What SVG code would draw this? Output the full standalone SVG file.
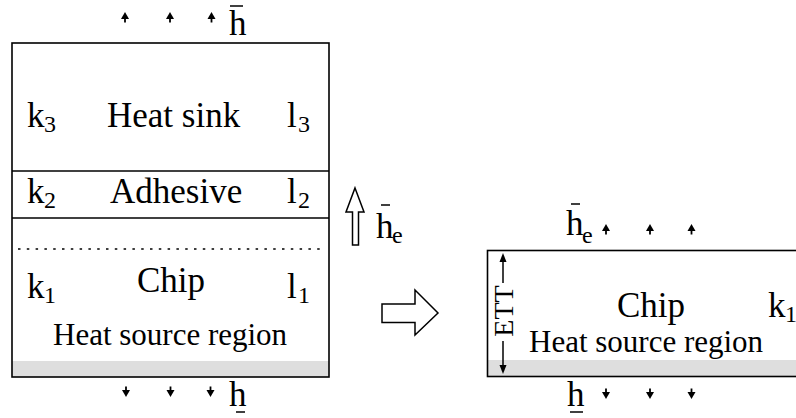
<svg xmlns="http://www.w3.org/2000/svg" width="796" height="418" viewBox="0 0 796 418">
<style>
  text { font-family: "Liberation Serif", "DejaVu Serif", "Times New Roman", serif; fill: #000; }
  .lbl { font-size: 35px; }
  .src { font-size: 31px; }
  .sub { font-size: 24px; }
  .box { fill: none; stroke: #000; stroke-width: 1.6; }
  .band { fill: #dedede; stroke: none; }
  .ln { stroke: #000; stroke-width: 1.5; fill: none; }
  .hollow { fill: #fff; stroke: #000; stroke-width: 1.5; stroke-linejoin: miter; }
</style>
<defs>
  <g id="up">
    <path d="M0,0 L-4,7 L4,7 Z" fill="#000"/>
    <line x1="0" y1="5" x2="0" y2="10.5" stroke="#000" stroke-width="1.8"/>
  </g>
  <g id="down">
    <path d="M0,0 L-4,-7 L4,-7 Z" fill="#000"/>
    <line x1="0" y1="-5" x2="0" y2="-10.5" stroke="#000" stroke-width="1.8"/>
  </g>
</defs>

<g id="left-stack">
  <rect class="band" x="12" y="361" width="317" height="16"/>
  <rect class="box" x="12" y="43" width="317" height="334"/>
  <line class="ln" x1="12" y1="171" x2="329" y2="171"/>
  <line class="ln" x1="12" y1="218" x2="329" y2="218"/>
  <line x1="18" y1="249" x2="326" y2="249" stroke="#000" stroke-width="1.3" stroke-dasharray="2.5,6.3"/>
</g>

<g id="heat-sink">
  <text class="lbl" x="27" y="127">k</text><text class="sub" x="44" y="132">3</text>
  <text class="lbl" x="107" y="127">Heat sink</text>
  <text class="lbl" x="287" y="127">l</text><text class="sub" x="298" y="132">3</text>
</g>

<g id="adhesive">
  <text class="lbl" x="27" y="203">k</text><text class="sub" x="44" y="208">2</text>
  <text class="lbl" x="110" y="203">Adhesive</text>
  <text class="lbl" x="287" y="203">l</text><text class="sub" x="298" y="208">2</text>
</g>

<g id="chip-left">
  <text class="lbl" x="27" y="298">k</text><text class="sub" x="44" y="303">1</text>
  <text class="lbl" x="137" y="292">Chip</text>
  <text class="lbl" x="287" y="298">l</text><text class="sub" x="298" y="303">1</text>
  <text class="src" x="53" y="345">Heat source region</text>
</g>

<g id="top-flux">
  <use href="#up" x="125" y="12"/>
  <use href="#up" x="170" y="12"/>
  <use href="#up" x="211.5" y="12"/>
  <text class="lbl" x="229" y="35">h</text>
  <line class="ln" x1="230" y1="6" x2="243" y2="6"/>
</g>

<g id="bottom-flux-left">
  <use href="#down" x="126" y="397"/>
  <use href="#down" x="170.5" y="397"/>
  <use href="#down" x="210.5" y="397"/>
  <text class="lbl" x="229" y="406">h</text>
  <line class="ln" x1="236" y1="412" x2="245" y2="412"/>
</g>

<g id="he-arrow">
  <polygon class="hollow" points="355,188 364,212 358.5,212 358.5,245 352.5,245 352.5,212 346,212"/>
  <text class="lbl" x="376" y="238">h</text>
  <text class="sub" x="392" y="243">e</text>
  <line class="ln" x1="381" y1="205" x2="390" y2="205"/>
</g>

<g id="transform-arrow">
  <polygon class="hollow" points="382,304 415,304 415,290 438,313 415,335 415,322.5 382,322.5"/>
</g>

<g id="right-chip">
  <rect class="band" x="487.5" y="360" width="320" height="16.5"/>
  <rect class="box" x="487.5" y="250.5" width="320" height="126"/>
  <text class="lbl" x="617" y="317">Chip</text>
  <text class="lbl" x="768" y="317">k</text><text class="sub" x="785" y="322">1</text>
  <text class="src" x="529" y="352">Heat source region</text>
</g>

<g id="ett">
  <path d="M503,253 L499.5,262 L506.5,262 Z" fill="#000"/>
  <line class="ln" x1="503" y1="259" x2="503" y2="283"/>
  <path d="M503,374 L499.5,365 L506.5,365 Z" fill="#000"/>
  <line class="ln" x1="503" y1="341" x2="503" y2="368"/>
  <text font-size="28" text-anchor="middle" transform="translate(513,311) rotate(-90)">ETT</text>
</g>

<g id="right-top-flux">
  <text class="lbl" x="566" y="235">h</text>
  <text class="sub" x="582" y="243">e</text>
  <line class="ln" x1="571" y1="204" x2="580" y2="204"/>
  <use href="#up" x="606" y="224"/>
  <use href="#up" x="650" y="224"/>
  <use href="#up" x="691.5" y="224"/>
</g>

<g id="right-bottom-flux">
  <text class="lbl" x="567" y="406">h</text>
  <line class="ln" x1="570" y1="412" x2="583" y2="412"/>
  <use href="#down" x="606" y="399"/>
  <use href="#down" x="650" y="399"/>
  <use href="#down" x="691.5" y="399"/>
</g>
</svg>
